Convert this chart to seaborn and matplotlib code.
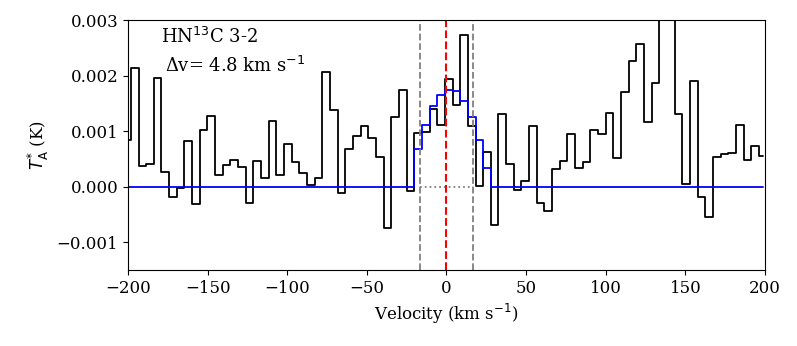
import numpy as np
import matplotlib
matplotlib.use("Agg")
import matplotlib.pyplot as plt
import seaborn as sns

sns.set_style("ticks")
plt.rcParams["font.family"] = ["DejaVu Serif"]
plt.rcParams["font.size"] = 12
plt.rcParams["axes.edgecolor"] = "black"
plt.rcParams["axes.labelcolor"] = "black"
plt.rcParams["text.color"] = "black"
plt.rcParams["xtick.color"] = "black"
plt.rcParams["ytick.color"] = "black"

# ── Data ─────────────────────────────────────────────────────────────
# channel grid: centre of channel 0 and channel width (km/s)
v_ref = 1.4
chan_width = 4.81
chan_index = np.arange(-42, 42)
velocity = v_ref + chan_width * chan_index

# observed HN13C 3-2 spectrum (mK), channels -42 .. 41
t_obs_mk = [
    0.85, 2.14, 0.37, 0.41, 1.96, 0.27, -0.19, -0.02, 0.83, -0.31,
    1.02, 1.27, 0.21, 0.39, 0.48, 0.36, -0.29, 0.46, 0.15, 1.18,
    0.21, 0.78, 0.44, 0.24, 0.03, 0.15, 2.07, 1.39, -0.11, 0.69,
    0.91, 1.09, 0.88, 0.53, -0.74, 1.26, 1.74, -0.08, 0.97, 0.99,
    1.41, 1.12,
    1.95, 1.48, 2.73, 1.10, 0.02, 0.63, -0.68, 1.31, 0.41, -0.05,
    0.10, 1.09, -0.30, -0.44, 0.32, 0.47, 0.96, 0.33, 0.45, 1.02,
    0.95, 1.33, 0.52, 1.71, 2.26, 2.58, 1.17, 1.87, 3.60, 3.40,
    1.32, 0.05, 1.90, -0.19, -0.54, 0.53, 0.60, 0.61, 1.11, 0.49,
    0.74, 0.55,
]

# model fit inside the integration window (channels -4 .. 5), mK
model_chans = [-4, -3, -2, -1, 0, 1, 2, 3, 4, 5]
t_model_mk = [0.69, 1.12, 1.45, 1.66, 1.75, 1.72, 1.54, 1.26, 0.85, 0.33]

window = [-16.5, 16.5]
v_sys = 0.0

t_obs = np.array(t_obs_mk) * 1e-3
t_model = np.zeros(len(velocity))
for ch, val in zip(model_chans, t_model_mk):
    t_model[ch + 42] = val * 1e-3

# ── Plot ─────────────────────────────────────────────────────────────
fig, ax = plt.subplots(figsize=(7.97, 3.46))
fig.subplots_adjust(left=0.1606, right=0.9598, bottom=0.2197, top=0.9410)

sns.lineplot(x=velocity, y=t_obs, drawstyle="steps-mid",
             color="black", linewidth=1.3, ax=ax)
sns.lineplot(x=velocity, y=t_model, drawstyle="steps-mid",
             color="blue", linewidth=1.3, ax=ax)

ax.plot(window, [0, 0], linestyle=":", color="gray", linewidth=1.3)
for w in window:
    ax.axvline(w, color="gray", linestyle="--", linewidth=1.3)
ax.axvline(v_sys, color="red", linestyle="--", linewidth=1.5)

ax.set_xlim(-200, 200)
ax.set_ylim(-0.0015, 0.003)
ax.set_yticks([-0.001, 0.0, 0.001, 0.002, 0.003])
ax.set_xlabel(r"Velocity (km s$^{-1}$)")
ax.set_ylabel(r"$T_{\rm A}^{*}$ (K)")

ax.text(0.052, 0.910, r"HN$^{13}$C 3-2", transform=ax.transAxes, fontsize=13)
ax.text(0.058, 0.795, r"Δv= 4.8 km s$^{-1}$", transform=ax.transAxes,
        fontsize=13)

plt.savefig("out.png", dpi=100)
plt.close()
